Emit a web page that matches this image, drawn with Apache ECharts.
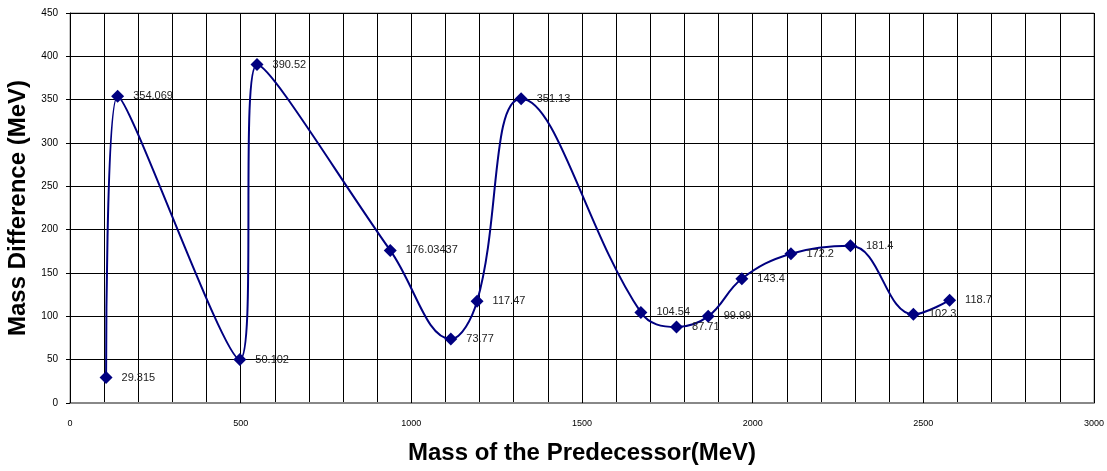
<!doctype html>
<html>
<head>
<meta charset="utf-8">
<style>
  html, body { margin: 0; padding: 0; background: #fff; }
  #chart-panel { width: 1107px; height: 471px; }
</style>
<script src="https://cdn.jsdelivr.net/npm/echarts@6/dist/echarts.min.js"></script>
</head>
<body>
<div id="chart-panel"></div>
<script type="text/javascript">
// predecessor mass (MeV) and mass difference (MeV)
var predecessorMass = [105.7, 139.6, 497.6, 547.9, 938.3, 1115.7, 1192.6, 1321.7, 1672.5, 1776.9, 1869.7, 1968.3, 2112.1, 2286.5, 2470.9, 2577.0];
var massDiff = [29.315, 354.069, 50.102, 390.52, 176.03437, 73.77, 117.47, 351.13, 104.54, 87.71, 99.99, 143.4, 172.2, 181.4, 102.3, 118.7];
var xTicks = [0, 500, 1000, 1500, 2000, 2500, 3000];

var myChart = echarts.init(document.getElementById('chart-panel'));

var points = [];
for (var i = 0; i < predecessorMass.length; i++) {
    points.push([predecessorMass[i], massDiff[i]]);
}

var option = {
    animation: false,
    grid: {
        left: 70,
        right: 13,
        top: 13,
        bottom: 68,
        outerBoundsMode: 'none',
        containLabel: false,
        show: true,
        borderColor: '#888',
        borderWidth: 1
    },
    xAxis: {
        type: 'value',
        min: 0,
        max: 3000,
        interval: 500,
        name: 'Mass of the Predecessor(MeV)',
        nameLocation: 'middle',
        nameGap: 38,
        nameTextStyle: {
            fontFamily: 'Liberation Sans',
            fontWeight: 'bold',
            fontSize: 24,
            color: '#000'
        },
        axisLine: { lineStyle: { color: '#888', width: 2 } },
        axisTick: { show: true, inside: true, length: 4, lineStyle: { color: '#000' } },
        axisLabel: {
            fontFamily: 'Liberation Sans',
            fontSize: 9,
            color: '#000',
            margin: 16,
            formatter: function (v) { return xTicks.indexOf(v) >= 0 ? String(v) : ''; }
        },
        splitLine: { show: true, lineStyle: { color: '#000', width: 1 } },
        minorTick: { show: false, splitNumber: 5 },
        minorSplitLine: { show: true, lineStyle: { color: '#000', width: 1 } }
    },
    yAxis: {
        type: 'value',
        min: 0,
        max: 450,
        interval: 50,
        name: 'Mass Difference (MeV)',
        nameLocation: 'middle',
        nameGap: 39,
        nameTextStyle: {
            fontFamily: 'Liberation Sans',
            fontWeight: 'bold',
            fontSize: 24,
            color: '#000'
        },
        axisLine: { show: true, lineStyle: { color: '#000', width: 1 } },
        axisTick: { show: true, length: 4, lineStyle: { color: '#000' } },
        axisLabel: {
            fontFamily: 'Liberation Sans',
            fontSize: 10,
            color: '#000',
            margin: 12
        },
        splitLine: { show: true, lineStyle: { color: '#000', width: 1 } }
    },
    series: [{
        type: 'line',
        data: points,
        smooth: 0.4,
        symbol: 'diamond',
        symbolSize: 13,
        lineStyle: { color: '#000080', width: 2 },
        itemStyle: { color: '#000080' },
        label: {
            show: true,
            position: 'right',
            distance: 9,
            fontFamily: 'Liberation Sans',
            fontSize: 11,
            color: '#222',
            formatter: function (p) { return String(p.value[1]); }
        }
    }]
};

myChart.setOption(option);
</script>
</body>
</html>
